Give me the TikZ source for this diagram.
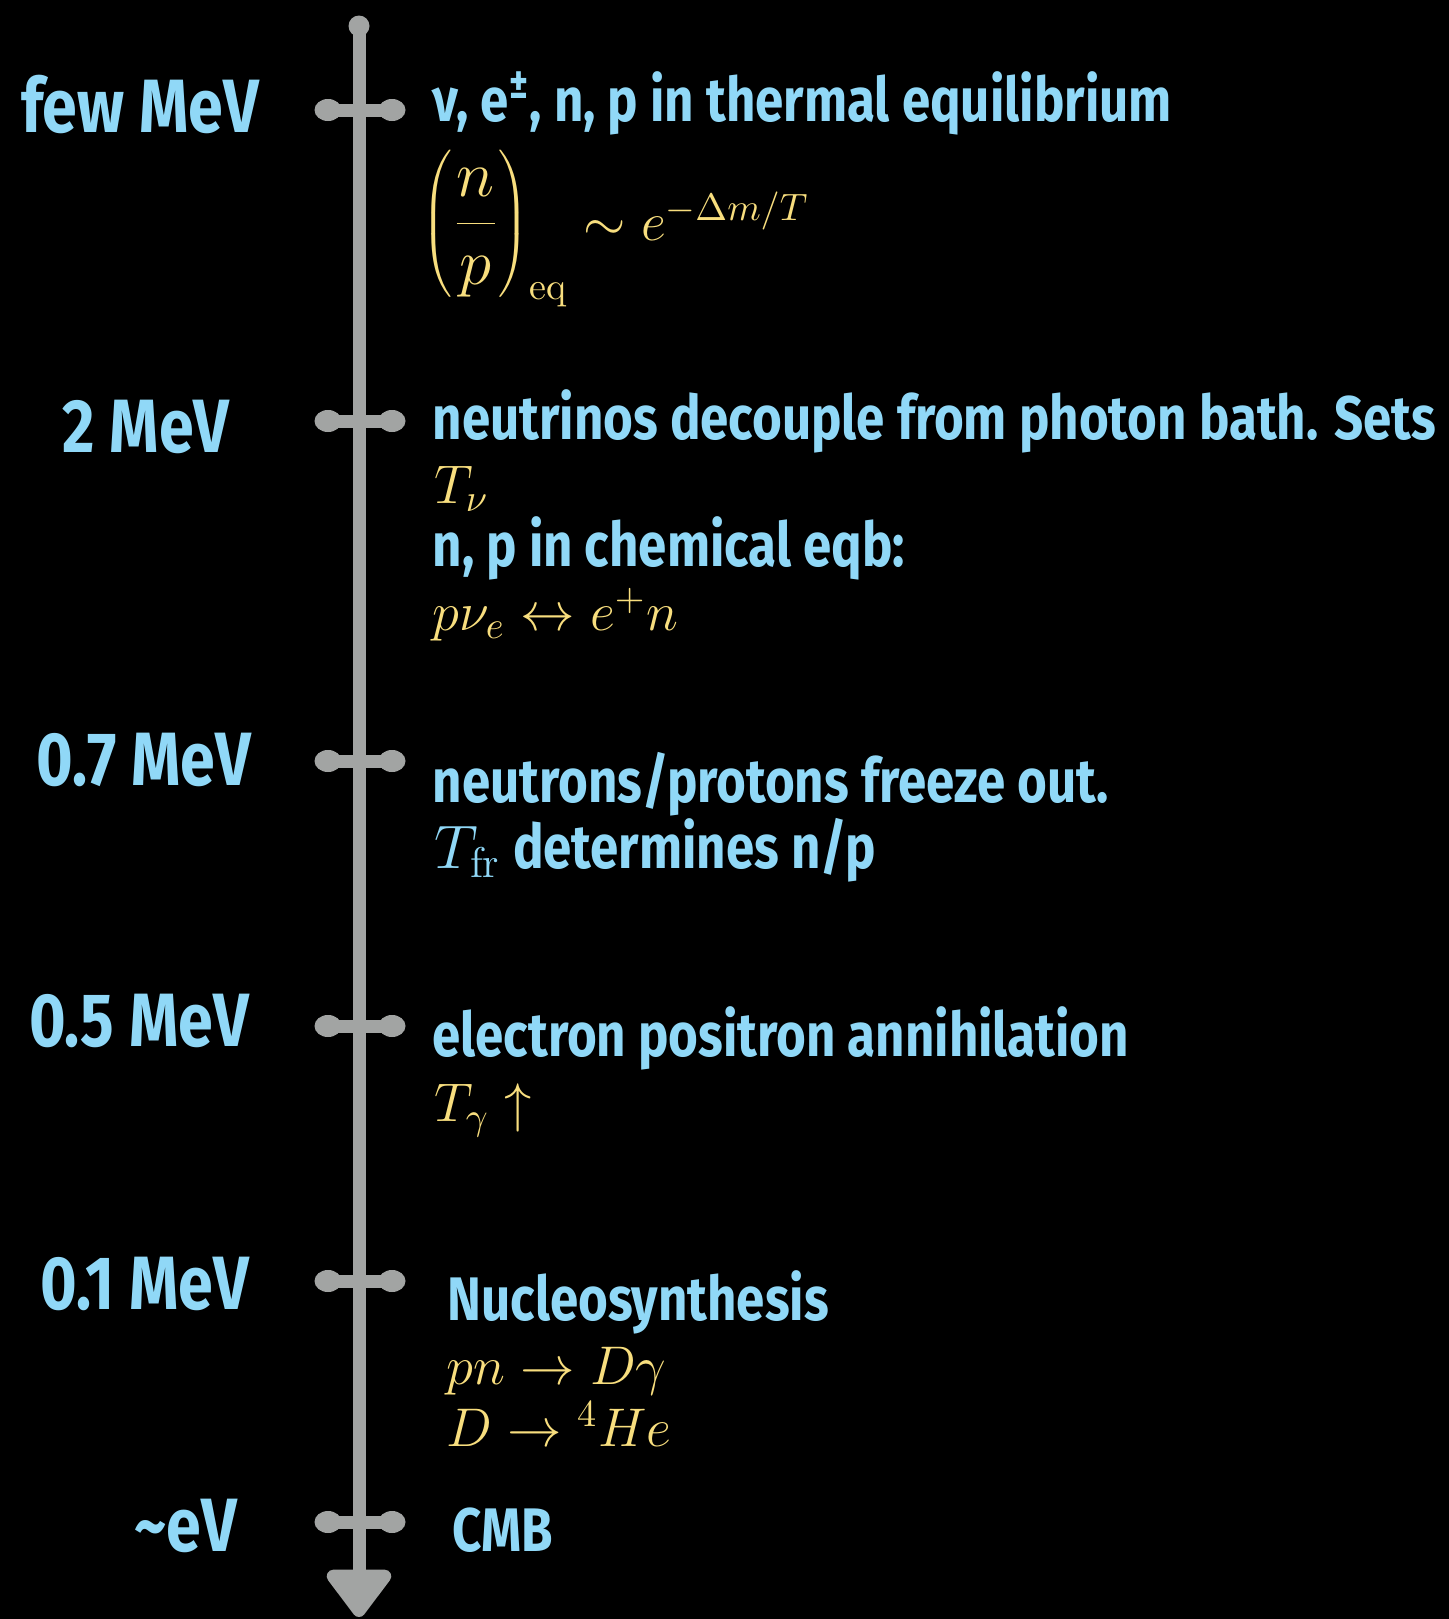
\RequirePackage{fix-cm}
\documentclass[tikz,border=0pt]{standalone}
\usepackage{fontspec}
\usepackage{xcolor}
\usepackage{tikz}
\usetikzlibrary{arrows.meta}
\newfontfamily\chalk{Fira Sans}[FakeStretch=0.83]
\definecolor{sky}{HTML}{90D8F7}
\definecolor{sand}{HTML}{F8DE7E}
\definecolor{bone}{HTML}{A2A4A3}

\begin{document}
\begin{tikzpicture}[
  axis/.style={draw=bone, line width=0.13cm, -{Triangle[width=0.74cm,length=0.52cm,round]}},
  tickbar/.style={draw=bone, line width=0.13cm},
  bulb/.style={fill=bone},
  energy/.style={text=sky, font=\chalk\bfseries\fontsize{21.5}{24}\selectfont, anchor=base, inner sep=0pt},
  event/.style={text=sky, font=\chalk\bfseries\fontsize{17.5}{20}\selectfont, anchor=base west, inner sep=0pt},
  formula/.style={text=sand, font=\fontsize{15.5}{18}\selectfont, anchor=base west, inner sep=0pt}
]
  \fill[black] (0,0) rectangle (14.49,-16.19);
  \useasboundingbox (0,0) rectangle (14.49,-16.19);

  % time axis
  \coordinate (top) at (3.59,-0.26);
  \coordinate (bottom) at (3.59,-16.17);
  \fill[bulb] (top) circle (0.105);
  \draw[axis] (top) -- (bottom);

  % ticks
  \foreach \y/\nm in {-1.10/few, -4.21/two, -7.61/seven, -10.26/five, -12.81/one, -15.22/ev} {
    \coordinate (t\nm) at (3.60,\y);
    \draw[tickbar] ([xshift=-0.32cm]t\nm) -- ([xshift=0.32cm]t\nm);
    \fill[bulb] ([xshift=-0.32cm]t\nm) ellipse (0.135 and 0.11);
    \fill[bulb] ([xshift=0.32cm]t\nm) ellipse (0.135 and 0.11);
  }

  % energies
  \node[energy] (efew) at (1.40,-1.32) {few MeV};
  \node[energy] (etwo) at (1.46,-4.52) {2 MeV};
  \node[energy] (eseven) at (1.44,-7.85) {0.7 MeV};
  \node[energy] (efive) at (1.39,-10.46) {0.5 MeV};
  \node[energy] (eone) at (1.45,-13.09) {0.1 MeV};
  \node[energy] (eev) at (1.86,-15.51) {{\char"007E}eV};

  % events
  \node[event] (thermal) at (4.32,-1.21) {ν, e\textsuperscript{±}, n, p in thermal equilibrium};
  \node[formula] (ratio) at (4.21,-2.40) {$\mbox{\fontsize{18.5}{20}\selectfont$\displaystyle\left(\frac{n}{p}\right)$}_{\mathrm{eq}} \sim e^{-\Delta m/T}$};
  \node[event] (decouple) at (4.32,-4.39) {neutrinos decouple from photon bath. Sets};
  \node[formula] (tnu) at (4.34,-5.03) {$T_\nu$};
  \node[event] (chem) at (4.32,-5.66) {n, p in chemical eqb:};
  \node[formula] (weak) at (4.32,-6.30) {$p\nu_e \leftrightarrow e^+ n$};
  \node[event] (freeze) at (4.32,-8.02) {neutrons/protons freeze out.};
  \node[event] (tfr) at (4.34,-8.68) {$T_{\mathrm{fr}}$ determines n/p};
  \node[event] (annih) at (4.32,-10.56) {electron positron annihilation};
  \node[formula] (tgam) at (4.34,-11.21) {$T_\gamma \uparrow$};
  \node[event] (nucleo) at (4.47,-13.20) {Nucleosynthesis};
  \node[formula] (deut) at (4.46,-13.84) {$pn \to D\gamma$};
  \node[formula] (helium) at (4.46,-14.46) {$D \to {}^4He$};
  \node[event] (cmb) at (4.52,-15.51) {CMB};
\end{tikzpicture}
\end{document}
